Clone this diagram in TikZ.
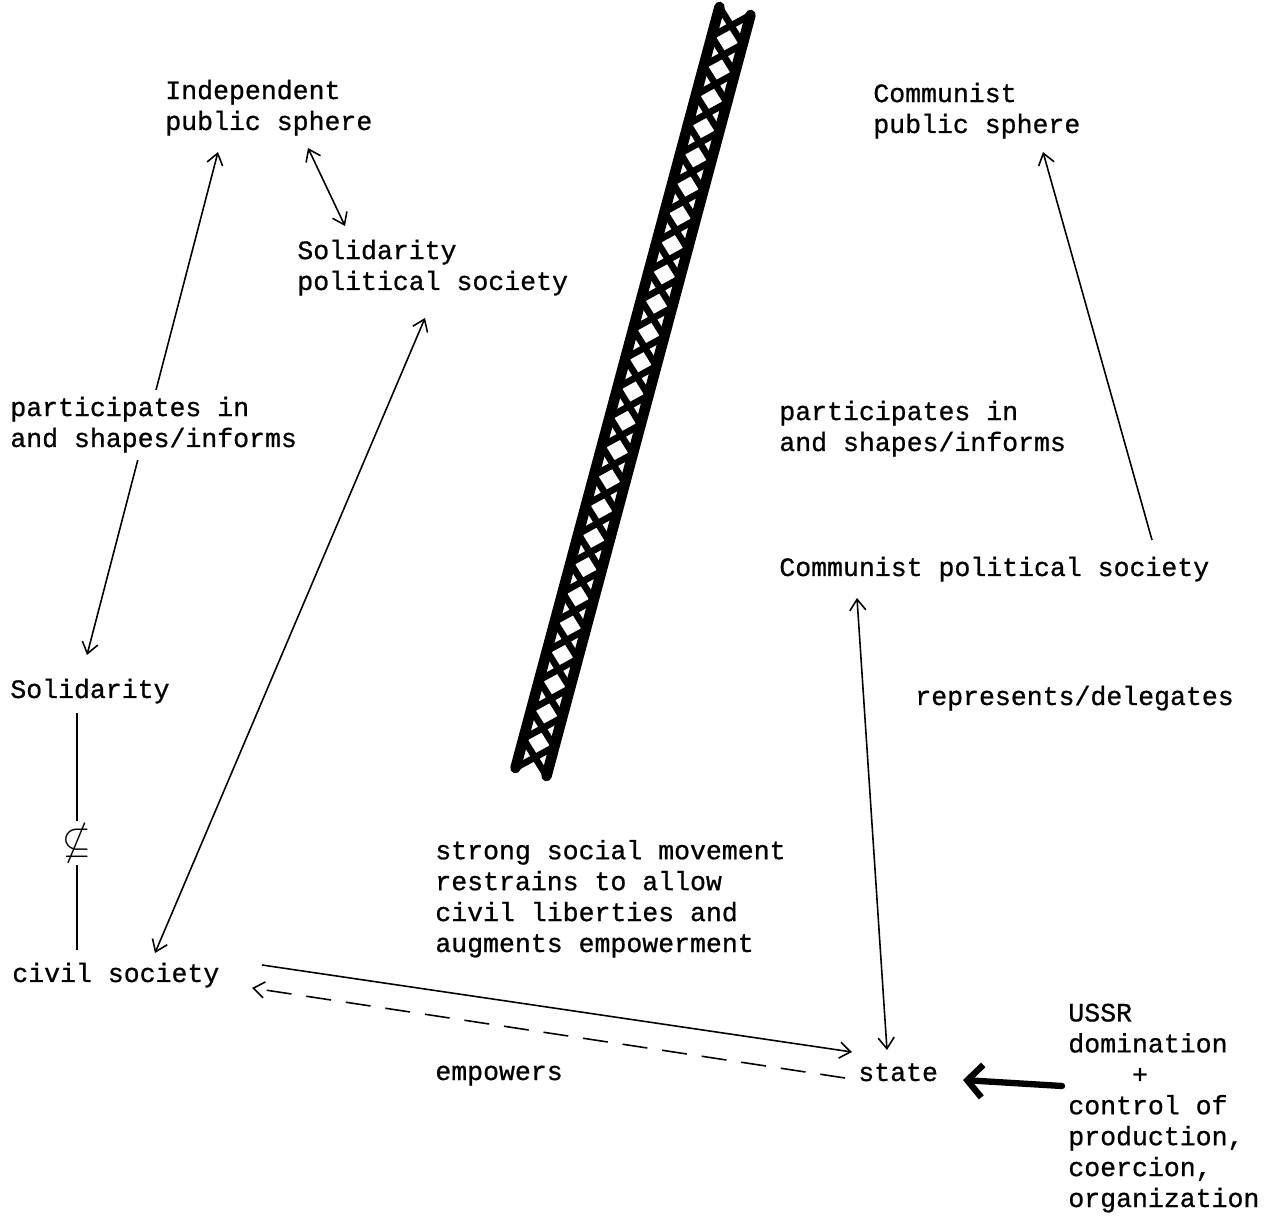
\documentclass[tikz,border=0pt]{standalone}
\usepackage{fontspec}
\usepackage{amssymb}
\usetikzlibrary{arrows.meta, calc}
\newfontfamily\typewriter[FakeBold=0.8]{Liberation Mono}

\begin{document}
\begin{tikzpicture}[x=0.02cm, y=-0.02cm, >={Straight Barb[length=2.2mm,width=3.2mm]},
		txt/.style={font=\typewriter\fontsize{15.1}{17.6}\selectfont, align=left, anchor=base west, inner sep=0pt},
		link/.style={line width=0.9pt},
		dashlink/.style={line width=0.9pt, dash pattern=on 5mm off 3mm},
		heavy/.style={line width=3.6pt, line cap=round, -{Straight Barb[length=3mm,width=6.5mm]}},
		wall/.style={line width=6pt, line cap=round},
		lattice/.style={line width=3.8pt, line cap=round}]
	\useasboundingbox (0,0) rectangle (1269,1219);
		\node[txt] (ips) at (165,130) {Independent\\public sphere};
		\node[txt] (sps) at (297,290) {Solidarity\\political society};
		\node[txt] (cps) at (873,133) {Communist\\public sphere};
		\node[txt] (sol) at (10,698) {Solidarity};
		\node[txt] (civ) at (12,982) {civil society};
		\node[txt] (cpol) at (779,576) {Communist political society};
		\node[txt] (state) at (858,1081) {state};
		\node[txt] (ussr) at (1068,1207) {USSR\\domination\\\hphantom{xxxx}+\\control of\\production,\\coercion,\\organization};
		\node[font=\fontsize{21}{21}\selectfont, fill=white, inner sep=1pt] (notsub) at (77,843) {$\nsubseteq$};
		\draw[link, <->] ($(ips.base west)+(53,22)$) -- ($(sol.base west)+(77,-43)$);
		\draw[link, <->] ($(ips.base west)+(143,18)$) -- ($(sps.base west)+(48,-64)$);
		\draw[link, <->] ($(sps.base west)+(128,28)$) -- ($(civ.base west)+(143,-29)$);
		\draw[link] ($(sol.base west)+(67,15)$) -- (notsub) -- ($(civ.base west)+(65,-32)$);
		\draw[link, ->] ($(civ.base west)+(250,-17)$) -- ($(state.base west)+(-6,-29)$);
		\draw[dashlink, ->] ($(state.base west)+(-13,-3)$) -- ($(civ.base west)+(240,6)$);
		\draw[link, <->] ($(cpol.base west)+(78,22)$) -- ($(state.base west)+(29,-31)$);
		\draw[link, ->] ($(cpol.base west)+(373,-36)$) -- ($(cps.base west)+(170,19)$);
		\draw[heavy] ($(ussr.base west)+(-6,-121)$) -- ($(state.base west)+(105,-1)$);
		\node[txt, inner ysep=4pt, fill=white] (pleft) at (10,447) {participates in\\and shapes/informs};
		\node[txt] (pright) at (779,451) {participates in\\and shapes/informs};
		\node[txt] (rep) at (915,705) {represents/delegates};
		\node[txt] (strong) at (435,952) {strong social movement\\restrains to allow\\civil liberties and\\augments empowerment};
		\node[txt] (emp) at (435,1080) {empowers};
	\coordinate (wl1) at (719.5,7);
	\coordinate (wl2) at (515.5,768);
	\coordinate (wr1) at (750.5,15);
	\coordinate (wr2) at (546.5,776);
		\draw[wall] (wl1) -- (wl2) (wr1) -- (wr2);
		\foreach \i [evaluate=\i as \a using \i/26, evaluate=\i as \b using (\i+1)/26] in {0,...,25}
			\draw[lattice] ($(wl1)!\a!(wl2)$) -- ($(wr1)!\b!(wr2)$) ($(wr1)!\a!(wr2)$) -- ($(wl1)!\b!(wl2)$);
\end{tikzpicture}
\end{document}
